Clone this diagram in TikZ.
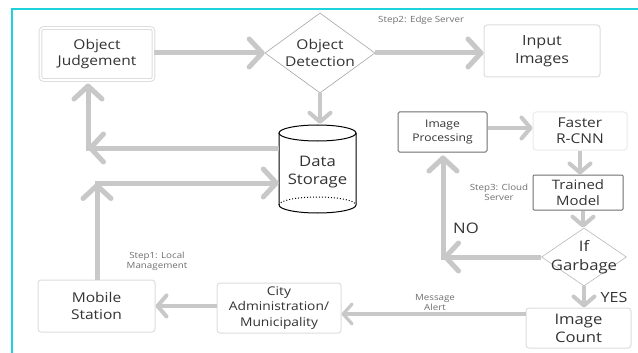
\documentclass[tikz,border=0pt]{standalone}
\usepackage{fontspec}
\setmainfont{Open Sans}[FakeStretch=1.15]
\usetikzlibrary{arrows.meta,shapes.geometric,calc}
\definecolor{arr}{HTML}{C8C8C8}
\definecolor{txt}{HTML}{333333}
\definecolor{lbl}{HTML}{707070}
\definecolor{cyanline}{HTML}{1ED2DC}
\definecolor{lightb}{HTML}{DDDDDD}
\definecolor{darkb}{HTML}{707070}
\newcommand{\fs}[2]{\fontsize{#1}{#2}\selectfont}
\begin{document}
\begin{tikzpicture}[x=1pt,y=-1pt,
  box/.style={draw=#1, rounded corners=3pt, line width=1pt, text=txt, align=center, inner sep=0pt},
  dia/.style={diamond, draw=#1, line width=0.6pt, inner sep=0pt, aspect=1.4},
  steplbl/.style={text=lbl, align=center, inner sep=0pt, font=\fs{8.5}{10}},
  bigarr/.style={draw=arr, line width=5pt, -{Straight Barb[length=13pt,width=28pt,round]}},
  midarr/.style={draw=arr, line width=4pt, -{Straight Barb[length=9pt,width=21pt,round]}},
  smallarr/.style={draw=arr, line width=3.2pt, -{Straight Barb[length=9pt,width=20pt,round]}},
  plain/.style={draw=arr, line width=5pt}
]
\useasboundingbox (0,0) rectangle (638,353);
\fill[white] (0,0) rectangle (638,353);
% frame
\draw[cyanline, line width=2pt] (12,353) -- (12,9) -- (638,9);

% nodes
\node[box=lightb, double=white, double distance=1.6pt, minimum width=113pt, minimum height=52pt, font=\fs{13.5}{16}] (judg) at (97,54) {Object\\Judgement};
\node[dia=gray!70, minimum width=110pt, minimum height=80pt,
      label={[text=txt, align=center, font=\fs{13.5}{17}]center:Object\\Detection}] (det) at (320,53) {};
\node[box=lightb, minimum width=116pt, minimum height=52pt, font=\fs{14}{18}] (inp) at (542,51) {Input\\Images};
\node[minimum width=77pt, minimum height=88pt, inner sep=0pt, text=txt, align=center, font=\fs{14.5}{18}] (stor) at (317.5,169) {\\[-2pt]Data\\Storage};
\node[box=lightb, minimum width=117pt, minimum height=52pt, font=\fs{13.5}{17.5}] (ms) at (96.5,306) {Mobile\\Station};
\node[box=lightb, minimum width=124pt, minimum height=50pt, font=\fs{12}{15.5}] (city) at (279,308) {City\\Administration/\\Municipality};
\node[box=lightb, minimum width=105pt, minimum height=40pt, font=\fs{14.5}{18}] (cnt) at (578.5,328) {Image\\Count};
\node[dia=gray!55, minimum width=85pt, minimum height=58pt,
      label={[text=txt, align=center, font=\fs{14.5}{19}]center:If\\Garbage}] (gar) at (584,257) {};
\node[box=darkb, rounded corners=1.5pt, minimum width=89pt, minimum height=40pt, font=\fs{10.5}{14}] (ip) at (442.5,132) {Image\\Processing};
\node[box=lightb!60, minimum width=94pt, minimum height=38pt, font=\fs{13.5}{16}] (frc) at (580,131) {Faster\\R-CNN};
\node[box=darkb, rounded corners=1pt, minimum width=90pt, minimum height=35pt, font=\fs{13}{16}] (tm) at (578,192.5) {Trained\\Model};

% cylinder drawing
\draw[black, line width=1pt] (279,133) -- (279,205) arc[start angle=180, end angle=0, x radius=38.5, y radius=8] -- (356,133);
\draw[black, line width=1pt] (317.5,133) ellipse [x radius=38.5, y radius=8];
\draw[black, line width=1pt, dotted] (279,205) arc[start angle=180, end angle=360, x radius=38.5, y radius=8];

% labels
\node[steplbl, anchor=west] (l2) at (378,20) {Step2: Edge Server};
\node[steplbl] (l1) at (157,261) {Step1: Local\\Management};
\node[steplbl] (l3) at (499,192) {Step3: Cloud\\Server};
\node[steplbl] (l4) at (435,303) {Message\\Alert};
\node[text=txt, inner sep=0pt, font=\fs{14.5}{17}] (no) at (466,228) {NO};
\node[text=txt, inner sep=0pt, font=\fs{14}{17}] (yes) at (614,297) {YES};

% coordinates
\coordinate (c1) at (88,148);
\coordinate (c2) at (97,183);
\coordinate (c3) at (443,257);
\coordinate (ma) at (526,314);

% connectors
\draw[bigarr] (judg.east |- det.west) -- (det.west);
\draw[bigarr] (det.east) -- (det.east -| inp.west);
\draw[midarr] (det.south) -- ($(det.south |- stor.north)+(0,-1)$);
\draw[bigarr] (c1 -| stor.west) -- (c1);
\draw[bigarr] ($(c1)+(0,2.5)$) -- ($(c1 |- judg.south)+(0,3)$);
\draw[bigarr] (ms.north -| c2) -- (c2);
\draw[bigarr] ($(c2)+(-2.5,0)$) -- (c2 -| stor.west);
\draw[midarr] (city.west |- ms.east) -- (ms.east);
\draw[smallarr] (ma -| cnt.west) -- (ma -| city.east);
\draw[midarr] (gar.south -| 584,0) -- (cnt.north -| 584,0);
\draw[bigarr] (gar.west) -- (c3);
\draw[bigarr] ($(c3)+(0,2.5)$) -- ($(c3 |- ip.south)+(0,3)$);
\draw[midarr] (ip.east |- 0,128) -- (frc.west |- 0,128);
\draw[midarr] (frc.south -| 580,0) -- (tm.north -| 580,0);
\draw[midarr] (tm.south -| 583,0) -- (gar.north -| 583,0);
\end{tikzpicture}
\end{document}
